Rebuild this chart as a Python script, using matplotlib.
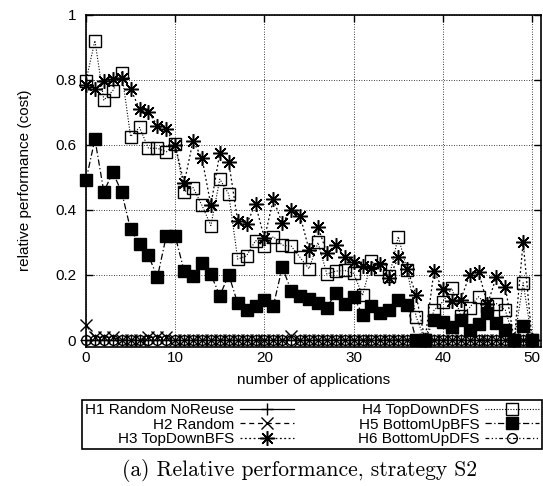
import matplotlib
matplotlib.use('Agg')
import matplotlib.pyplot as plt

plt.rcParams['font.family'] = ['Liberation Sans', 'DejaVu Sans']

apps = list(range(51))

h1_noreuse = [0.0] * 51
h2_random = [0.045, 0.008, 0.008, 0.008, 0.0, 0.0, 0.0, 0.008, 0.008, 0.008,
             0.0, 0.0, 0.0, 0.0, 0.0, 0.0, 0.0, 0.0, 0.0, 0.0,
             0.0, 0.0, 0.0, 0.012, 0.0, 0.0, 0.0, 0.0, 0.0, 0.0,
             0.0, 0.0, 0.0, 0.0, 0.0, 0.0, 0.0, 0.0, 0.0, 0.0,
             0.0, 0.0, 0.0, 0.0, 0.0, 0.0, 0.0, 0.0, 0.0, 0.0, 0.0]
h3_topdown_bfs = [0.785, 0.772, 0.798, 0.802, 0.807, 0.772, 0.711, 0.703, 0.659, 0.648,
                  0.600, 0.482, 0.613, 0.559, 0.415, 0.576, 0.547, 0.367, 0.357, 0.417,
                  0.313, 0.433, 0.359, 0.400, 0.382, 0.278, 0.348, 0.268, 0.292, 0.255,
                  0.240, 0.228, 0.222, 0.234, 0.191, 0.254, 0.220, 0.138, 0.0, 0.212,
                  0.156, 0.120, 0.124, 0.200, 0.210, 0.110, 0.195, 0.163, 0.0, 0.301, 0.0]
h4_topdown_dfs = [0.798, 0.921, 0.738, 0.767, 0.823, 0.626, 0.654, 0.590, 0.590, 0.579,
                  0.602, 0.456, 0.469, 0.414, 0.352, 0.495, 0.449, 0.249, 0.259, 0.306,
                  0.289, 0.318, 0.292, 0.289, 0.254, 0.219, 0.300, 0.203, 0.212, 0.214,
                  0.205, 0.137, 0.242, 0.220, 0.196, 0.318, 0.215, 0.072, 0.0, 0.091,
                  0.118, 0.159, 0.075, 0.100, 0.133, 0.105, 0.112, 0.092, 0.0, 0.176, 0.0]
h5_bottomup_bfs = [0.492, 0.618, 0.456, 0.516, 0.455, 0.340, 0.294, 0.260, 0.193, 0.320,
                   0.320, 0.212, 0.198, 0.236, 0.202, 0.136, 0.201, 0.113, 0.092, 0.106,
                   0.124, 0.105, 0.224, 0.152, 0.135, 0.126, 0.113, 0.100, 0.146, 0.111,
                   0.133, 0.077, 0.105, 0.084, 0.092, 0.123, 0.108, 0.0, 0.0, 0.062,
                   0.056, 0.041, 0.062, 0.031, 0.049, 0.082, 0.052, 0.031, 0.0, 0.043, 0.0]
h6_bottomup_dfs = [0.0] * 51

xticks = [0, 10, 20, 30, 40, 50]
yticks = [0, 0.2, 0.4, 0.6, 0.8, 1]
ytick_labels = ['0', '0.2', '0.4', '0.6', '0.8', '1']

fig = plt.figure(figsize=(5.43, 4.86), dpi=100)
ax = fig.add_axes([86 / 543, 1 - 346.5 / 486, 455 / 543, 331.5 / 486])

lw = 0.9
ax.plot(apps, h1_noreuse, color='black', lw=lw, ls='-', marker='+',
        ms=9, mew=1, label='H1 Random NoReuse', clip_on=False)
ax.plot(apps, h2_random, color='black', lw=lw, ls=(0, (4, 3)), marker='x',
        ms=8, mew=1, label='H2 Random', clip_on=False)
ax.plot(apps, h3_topdown_bfs, color='black', lw=lw, ls=(0, (1.5, 2)), marker=(8, 2, 0),
        ms=10.5, mew=1.1, label='H3 TopDownBFS', clip_on=False)
ax.plot(apps, h4_topdown_dfs, color='black', lw=0.8, ls=(0, (1, 1.5)), marker='s',
        ms=8.5, mew=1, mfc='none', label='H4 TopDownDFS', clip_on=False)
ax.plot(apps, h5_bottomup_bfs, color='black', lw=lw, ls=(0, (5, 2, 1, 2)), marker='s',
        ms=8, mew=1, mfc='black', label='H5 BottomUpBFS', clip_on=False)
ax.plot(apps, h6_bottomup_dfs, color='black', lw=lw, ls=(0, (3, 2, 1, 2, 1, 2)), marker='o',
        ms=7, mew=1, mfc='none', label='H6 BottomUpDFS', clip_on=False)

ax.set_xlim(0, 51)
ax.set_ylim(-0.02, 1)
ax.set_xticks(xticks)
ax.set_yticks(yticks)
ax.set_yticklabels(ytick_labels)
ax.tick_params(direction='in', top=True, right=True, length=5, width=1,
               labelsize=11)
ax.tick_params(axis='y', pad=7)
ax.tick_params(axis='x', pad=3)
ax.grid(True, color='black', ls=(0, (1, 2)), lw=0.6)
for s in ax.spines.values():
    s.set_linewidth(1.2)

ax.set_xlabel('number of applications', fontsize=11, labelpad=6)
ax.set_ylabel('relative performance (cost)', fontsize=11, labelpad=17)

leg = fig.legend(loc='lower left', ncol=2, mode='expand',
                 bbox_to_anchor=(82 / 543, 1 - 449 / 486, 460 / 543, 46 / 486),
                 markerfirst=False, fontsize=11, handlelength=3.5,
                 labelspacing=0.02, borderpad=0.2, handletextpad=0.4,
                 fancybox=False, framealpha=1, edgecolor='black', borderaxespad=0)
leg.get_frame().set_linewidth(1.2)

fig.text(300 / 543, 1 - 470 / 486, '(a) Relative performance, strategy S2',
         family='cmr10', fontsize=15.5, ha='center', va='center')

fig.savefig('out.png', dpi=100)
